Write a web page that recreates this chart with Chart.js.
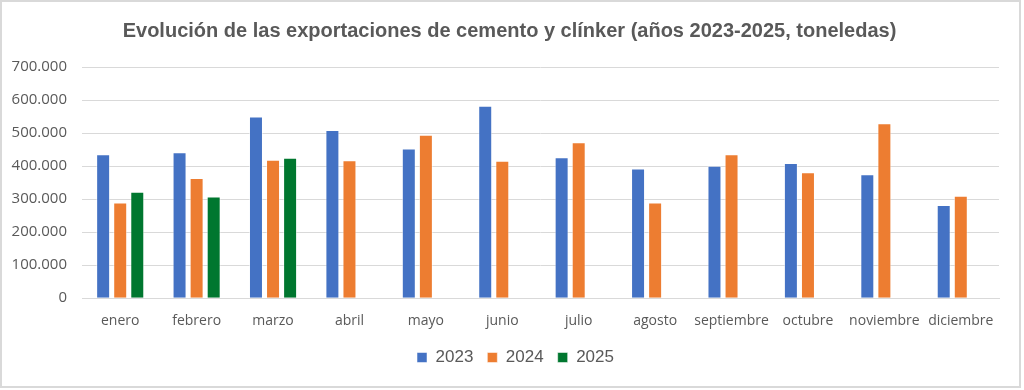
<!DOCTYPE html>
<html>
<head>
<meta charset="utf-8">
<script src="https://cdn.jsdelivr.net/npm/chart.js@4"></script>
<style>
  html, body { margin: 0; padding: 0; background: #fff; }
  #wrap {
    position: relative;
    width: 1021px; height: 388px;
    box-sizing: border-box;
    border: 2px solid #d9d9d9;
    background: #fff;
  }
  canvas { display: block; }
</style>
</head>
<body>
<div id="wrap"><canvas id="exportChart" width="1017" height="384"></canvas></div>
<script>
const months = ["enero", "febrero", "marzo", "abril", "mayo", "junio",
                "julio", "agosto", "septiembre", "octubre", "noviembre", "diciembre"];
const years = ["2023", "2024", "2025"];
const exp2023 = [436000, 442000, 550000, 509000, 453000, 583000, 427000, 393000, 401000, 409000, 375000, 282000];
const exp2024 = [290000, 364000, 419000, 418000, 495000, 416000, 472000, 290000, 436000, 381000, 530000, 310000];
const exp2025 = [322000, 308000, 425000, null, null, null, null, null, null, null, null, null];
const yTicks = [0, 100000, 200000, 300000, 400000, 500000, 600000, 700000];

const colors = ["#4472c4", "#ed7d31", "#00772f"];

const ctx = document.getElementById("exportChart").getContext("2d");

// nudge title and legend so they sit centred like the original
const centreBlocks = {
    id: "centreBlocks",
    afterLayout: function (chart) {
        if (chart.titleBlock) chart.titleBlock.left = 18;
        if (chart.legend) chart.legend.left = 30;
    }
};

new Chart(ctx, {
    type: "bar",
    data: {
        labels: months,
        datasets: [exp2023, exp2024, exp2025].map(function (vals, i) {
            return {
                label: years[i],
                data: vals,
                backgroundColor: colors[i],
                borderColor: "rgba(255,255,255,0.5)",
                borderWidth: 1,
                barPercentage: 0.82,
                categoryPercentage: 0.67
            };
        })
    },
    plugins: [centreBlocks],
    options: {
        responsive: false,
        animation: false,
        layout: { padding: { left: 0, right: 20, top: 9, bottom: 10 } },
        plugins: {
            title: {
                display: true,
                text: "Evolución de las exportaciones de cemento y clínker (años 2023-2025, toneledas)",
                color: "#595959",
                font: { family: "'Liberation Sans', Arial, sans-serif", size: 20, weight: "bold" },
                padding: { top: 8, bottom: 24 }
            },
            legend: {
                position: "bottom",
                labels: {
                    color: "#595959",
                    font: { family: "'Liberation Sans', Arial, sans-serif", size: 17 },
                    boxWidth: 10,
                    boxHeight: 10,
                    padding: 14
                }
            },
            tooltip: { enabled: false }
        },
        scales: {
            x: {
                grid: { display: false },
                border: { color: "#d9d9d9" },
                ticks: {
                    color: "#595959",
                    font: { family: "'Open Sans', sans-serif", size: 14 },
                    maxRotation: 0,
                    autoSkip: false,
                    padding: 6
                }
            },
            y: {
                min: 0,
                max: 700000,
                afterBuildTicks: function (axis) {
                    axis.ticks = yTicks.map(function (v) { return { value: v }; });
                },
                afterFit: function (axis) { axis.width = 80; },
                grid: { color: "#d9d9d9", drawTicks: false },
                border: { display: false },
                ticks: {
                    color: "#595959",
                    font: { family: "'Open Sans', sans-serif", size: 15 },
                    padding: 15,
                    callback: function (v) { return v.toLocaleString("de-DE"); }
                }
            }
        }
    }
});
</script>
</body>
</html>
